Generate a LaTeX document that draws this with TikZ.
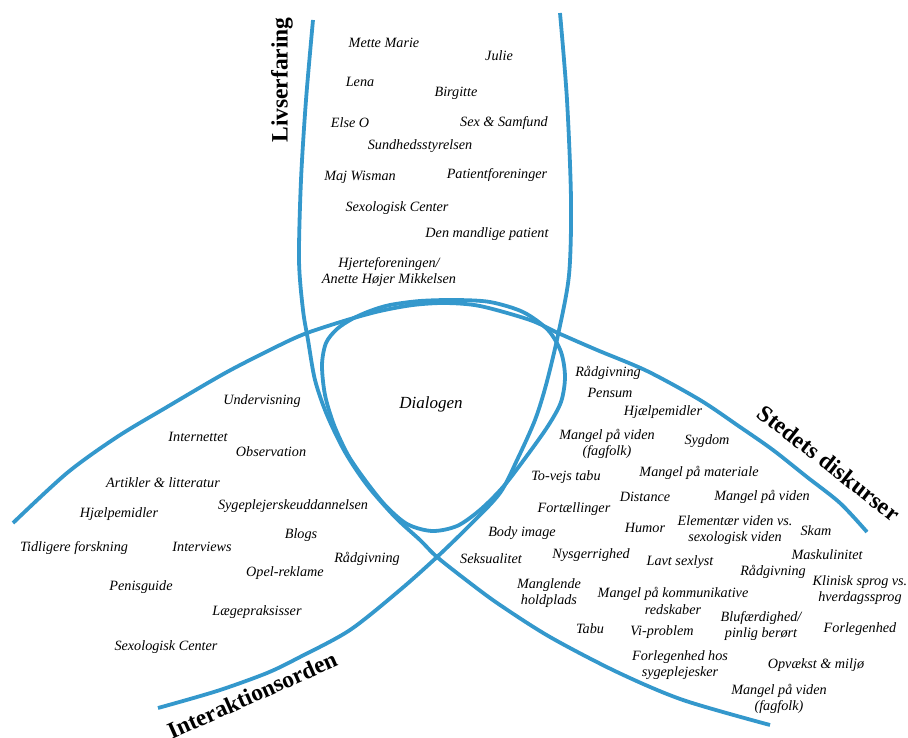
\documentclass[tikz,border=0pt]{standalone}
\usepackage{fontspec}
\setmainfont{Liberation Serif}
\definecolor{arcblue}{RGB}{52,152,204}
\begin{document}
\begin{tikzpicture}[x=1pt,y=-1pt,
  bluearc/.style={draw=arcblue,line width=3.8pt,line join=round},
  item/.style={font=\fontsize{14.2}{16.5}\selectfont\itshape,inner sep=0pt,align=center},
  fieldtitle/.style={font=\fontsize{23.5}{26}\selectfont\bfseries,inner sep=0pt},
]
\useasboundingbox (0,0) rectangle (908,738);

% the three domain arcs
\draw[bluearc] plot[smooth] coordinates {(313,20) (306,100) (301,180) (299,260) (303,310) (308,340)
  (315,380) (327,415) (345,452) (367,485) (395,517) (420,540) (437,557) (470,583) (500,605)
  (550,637) (617,672) (683,700) (770,725)};
\draw[bluearc] plot[smooth] coordinates {(560,13) (567,100) (571,200) (569,275) (558,335) (546,385)
  (535,420) (518,458) (500,493) (470,525) (437,557) (400,590) (350,630) (300,657) (267,673)
  (217,691) (158,708)};
\draw[bluearc] plot[smooth] coordinates {(13,523) (67,473) (117,437) (167,407) (227,372) (280,345)
  (307,333) (347,320) (380,311) (413,305) (445,303) (480,306) (530,320) (558,333) (597,350)
  (647,371) (700,400) (740,427) (773,450) (807,477) (840,503) (867,532)};

% the shared core
\draw[bluearc] plot[smooth cycle] coordinates {(455,300) (490,302) (523,312) (548,330) (561,352)
  (565,377) (561,402) (548,426) (526,457) (503,487) (480,510) (457,526) (432,531) (407,524)
  (385,505) (365,480) (348,455) (334,425) (325,395) (322,365) (326,343) (337,329) (352,319)
  (370,311) (390,305) (420,301)};
\node[item,font=\fontsize{17}{20}\selectfont\itshape] (core) at (431,404) {Dialogen};

% domain titles
\node[fieldtitle,rotate=90] (livs) at (282,80) {Livserfaring};
\node[fieldtitle,rotate=24] (inter) at (252,695) {Interaktionsorden};
\node[fieldtitle,rotate=-38] (sted) at (829,463) {Stedets diskurser};

% Livserfaring
\node[item] (l1) at (384,43) {Mette Marie};
\node[item] (l2) at (499,56) {Julie};
\node[item] (l3) at (360,82) {Lena};
\node[item] (l4) at (456,93) {Birgitte};
\node[item] (l5) at (350,123) {Else O};
\node[item] (l6) at (504,123) {Sex \& Samfund};
\node[item] (l7) at (420,146) {Sundhedsstyrelsen};
\node[item] (l8) at (360,177) {Maj Wisman};
\node[item] (l9) at (497,175) {Patientforeninger};
\node[item] (l10) at (397,208) {Sexologisk Center};
\node[item] (l11) at (487,234) {Den mandlige patient};
\node[item] (l12) at (389,272) {Hjerteforeningen/\\Anette Højer Mikkelsen};

% Interaktionsorden
\node[item] (i1) at (262,401) {Undervisning};
\node[item] (i2) at (198,437) {Internettet};
\node[item] (i3) at (271,452) {Observation};
\node[item] (i4) at (163,483) {Artikler \& litteratur};
\node[item] (i5) at (293,506) {Sygeplejerskeuddannelsen};
\node[item] (i6) at (119,514) {Hjælpemidler};
\node[item] (i7) at (301,535) {Blogs};
\node[item] (i8) at (74,548) {Tidligere forskning};
\node[item] (i9) at (202,547) {Interviews};
\node[item] (i10) at (367,559) {Rådgivning};
\node[item] (i11) at (285,573) {Opel-reklame};
\node[item] (i12) at (141,587) {Penisguide};
\node[item] (i13) at (257,612) {Lægepraksisser};
\node[item] (i14) at (166,647) {Sexologisk Center};

% Stedets diskurser
\node[item] (s1) at (608,373) {Rådgivning};
\node[item] (s2) at (610,393) {Pensum};
\node[item] (s3) at (663,412) {Hjælpemidler};
\node[item] (s4) at (607,444) {Mangel på viden\\(fagfolk)};
\node[item] (s5) at (707,441) {Sygdom};
\node[item] (s6) at (566,477) {To-vejs tabu};
\node[item] (s7) at (699,473) {Mangel på materiale};
\node[item] (s8) at (645,497) {Distance};
\node[item] (s9) at (762,497) {Mangel på viden};
\node[item] (s10) at (574,509) {Fortællinger};
\node[item] (s11) at (645,528) {Humor};
\node[item] (s12) at (735,530) {Elementær viden vs.\\sexologisk viden};
\node[item] (s13) at (816,531) {Skam};
\node[item] (s14) at (522,533) {Body image};
\node[item] (s15) at (491,559) {Seksualitet};
\node[item] (s16) at (591,555) {Nysgerrighed};
\node[item] (s17) at (680,562) {Lavt sexlyst};
\node[item] (s18) at (827,555) {Maskulinitet};
\node[item] (s19) at (773,572) {Rådgivning};
\node[item] (s20) at (860,590) {Klinisk sprog vs.\\hverdagssprog};
\node[item] (s21) at (549,593) {Manglende\\holdplads};
\node[item] (s22) at (673,601) {Mangel på kommunikative\\redskaber};
\node[item] (s23) at (761,626) {Blufærdighed/\\pinlig berørt};
\node[item] (s24) at (860,629) {Forlegenhed};
\node[item] (s25) at (590,629) {Tabu};
\node[item] (s26) at (662,632) {Vi-problem};
\node[item] (s27) at (680,665) {Forlegenhed hos\\sygeplejesker};
\node[item] (s28) at (816,665) {Opvækst \& miljø};
\node[item] (s29) at (779,699) {Mangel på viden\\(fagfolk)};
\end{tikzpicture}
\end{document}
